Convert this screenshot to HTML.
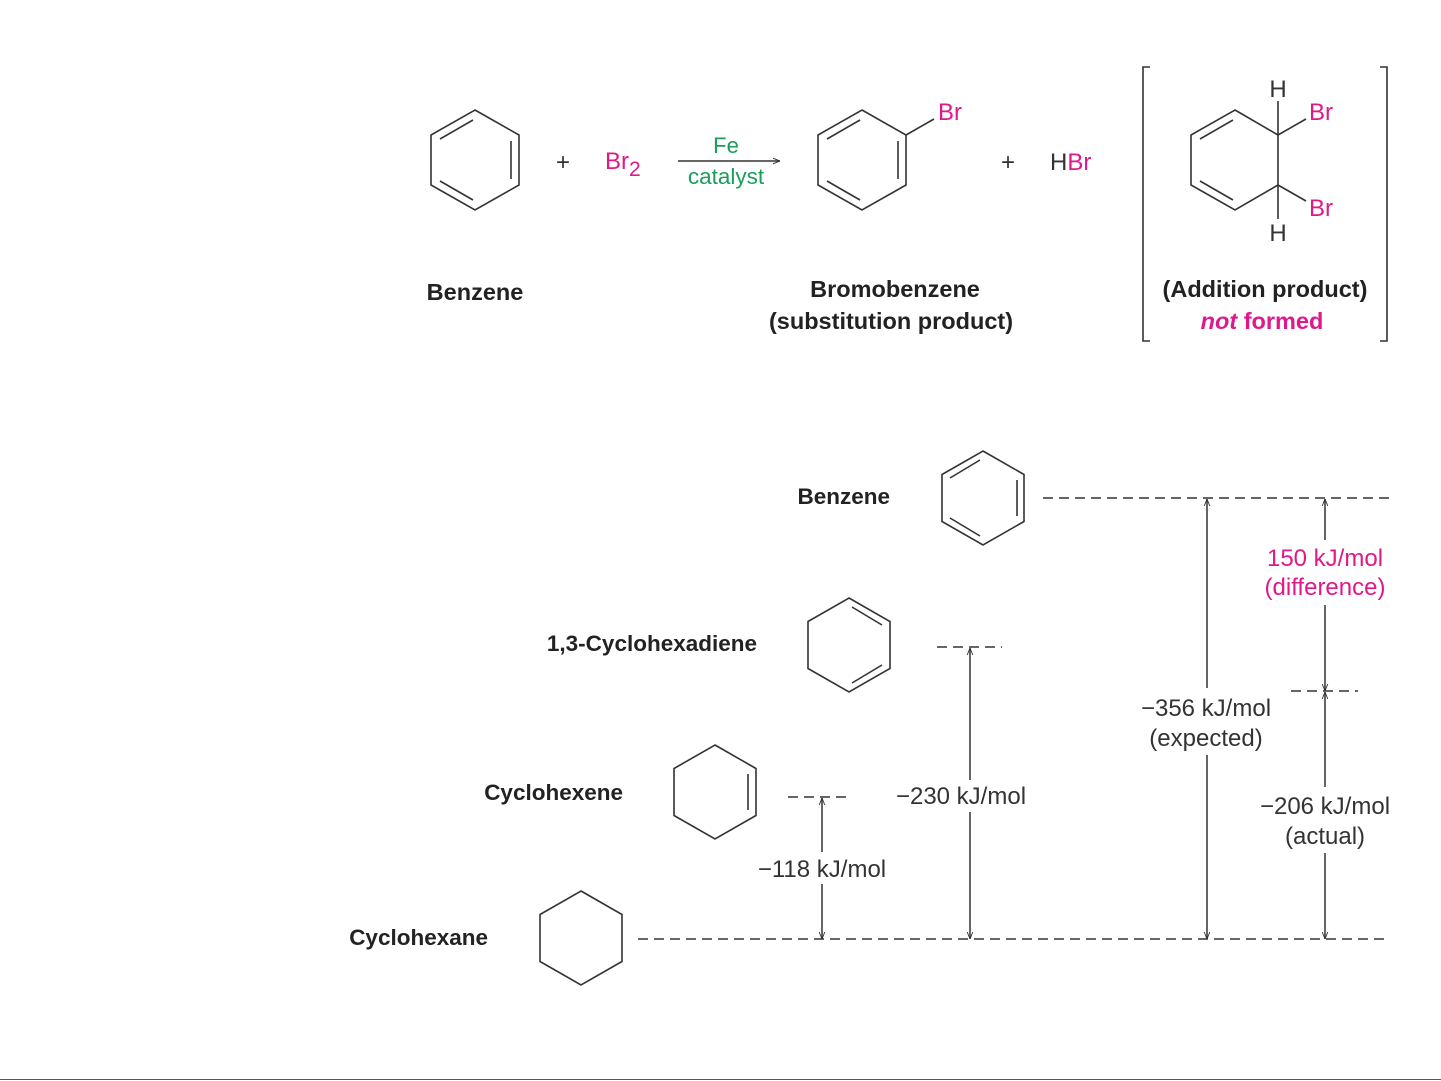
<!DOCTYPE html>
<html><head><meta charset="utf-8"><style>
html,body{margin:0;padding:0;background:#fff}
svg{display:block}
text{font-family:"Liberation Sans",sans-serif}
.b{font-weight:bold;fill:#222;font-size:23.5px}
.b2{font-weight:bold;fill:#222;font-size:22.5px}
.n{fill:#333;font-size:24px}
.k{fill:#333;font-size:24px}
.p{fill:#e0198a}
.g{fill:#1a9e5a}
</style></head><body>
<svg width="1441" height="1081" viewBox="0 0 1441 1081" xmlns="http://www.w3.org/2000/svg">
<defs>
<marker id="ah" viewBox="0 0 10 10" refX="10" refY="5" markerWidth="7" markerHeight="7" orient="auto-start-reverse" markerUnits="userSpaceOnUse">
<path d="M0,1 L10,5 L0,9" fill="none" stroke="#333" stroke-width="1.3"/>
</marker>
</defs>
<g fill="none" stroke="#333" stroke-width="1.6">
<polygon points="475,110 519,135 519,185 475,210 431,185 431,135"/>
<line x1="511" y1="141" x2="511" y2="179"/>
<line x1="440" y1="139" x2="473" y2="120"/>
<line x1="440" y1="181" x2="473" y2="200"/>
<line x1="678" y1="161" x2="780" y2="161" marker-end="url(#ah)"/>
<polygon points="862,110 906,135 906,185 862,210 818,185 818,135"/>
<line x1="898" y1="141" x2="898" y2="179"/>
<line x1="827" y1="139" x2="860" y2="120"/>
<line x1="827" y1="181" x2="860" y2="200"/>
<line x1="906" y1="135" x2="934" y2="119"/>
<polygon points="1235,110 1278,135 1278,185 1235,210 1191,185 1191,135"/>
<line x1="1200" y1="139" x2="1233" y2="120"/>
<line x1="1200" y1="181" x2="1233" y2="200"/>
<line x1="1278" y1="135" x2="1278" y2="101"/>
<line x1="1278" y1="185" x2="1278" y2="219"/>
<line x1="1278" y1="135" x2="1306" y2="119"/>
<line x1="1278" y1="185" x2="1306" y2="201"/>
<polyline points="1150,67 1143,67 1143,341 1150,341"/>
<polyline points="1380,67 1387,67 1387,341 1380,341"/>
<polygon points="983,451 1024,474.5 1024,521.5 983,545 942,521.5 942,474.5"/>
<line x1="1017" y1="480" x2="1017" y2="516"/>
<line x1="950" y1="478" x2="980" y2="460"/>
<line x1="950" y1="518" x2="980" y2="536"/>
<polygon points="849,598 890,621.5 890,668.5 849,692 808,668.5 808,621.5"/>
<line x1="852" y1="607" x2="882" y2="625"/>
<line x1="882" y1="665" x2="852" y2="683"/>
<polygon points="715,745 756,768.5 756,815.5 715,839 674,815.5 674,768.5"/>
<line x1="748" y1="774" x2="748" y2="810"/>
<polygon points="581,891 622,914.5 622,961.5 581,985 540,961.5 540,914.5"/>
</g>
<g stroke="#333" stroke-width="1.6" stroke-dasharray="10,6" fill="none">
<line x1="1043" y1="498" x2="1390" y2="498"/>
<line x1="937" y1="647" x2="1002" y2="647"/>
<line x1="788" y1="797" x2="852" y2="797"/>
<line x1="1291" y1="691" x2="1358" y2="691"/>
<line x1="638" y1="939" x2="1390" y2="939"/>
</g>
<g stroke="#333" stroke-width="1.5" fill="none">
<line x1="822" y1="798" x2="822" y2="852" marker-start="url(#ah)"/>
<line x1="822" y1="884" x2="822" y2="939" marker-end="url(#ah)"/>
<line x1="970" y1="648" x2="970" y2="780" marker-start="url(#ah)"/>
<line x1="970" y1="812" x2="970" y2="939" marker-end="url(#ah)"/>
<line x1="1207" y1="499" x2="1207" y2="688" marker-start="url(#ah)"/>
<line x1="1207" y1="755" x2="1207" y2="939" marker-end="url(#ah)"/>
<line x1="1325" y1="499" x2="1325" y2="540" marker-start="url(#ah)"/>
<line x1="1325" y1="605" x2="1325" y2="691" marker-end="url(#ah)"/>
<line x1="1325" y1="692" x2="1325" y2="787" marker-start="url(#ah)"/>
<line x1="1325" y1="853" x2="1325" y2="939" marker-end="url(#ah)"/>
</g>
<line x1="0" y1="1079.5" x2="1441" y2="1079.5" stroke="#555" stroke-width="1"/>
<text x="563" y="170" class="n" text-anchor="middle" font-size="27">+</text>
<text x="605" y="169" class="p" font-size="24">Br<tspan font-size="21" dy="7">2</tspan></text>
<text x="726" y="153" class="g" font-size="22" text-anchor="middle">Fe</text>
<text x="726" y="184" class="g" font-size="22.5" text-anchor="middle">catalyst</text>
<text x="938" y="120" class="p" font-size="24">Br</text>
<text x="1008" y="170" class="n" text-anchor="middle" font-size="27">+</text>
<text x="1050" y="170" class="n" font-size="24">H<tspan class="p">Br</tspan></text>
<text x="1278" y="97" class="n" font-size="24" text-anchor="middle">H</text>
<text x="1278" y="241" class="n" font-size="24" text-anchor="middle">H</text>
<text x="1309" y="120" class="p" font-size="24">Br</text>
<text x="1309" y="216" class="p" font-size="24">Br</text>
<text x="475" y="300" class="b" text-anchor="middle">Benzene</text>
<text x="895" y="297" class="b" text-anchor="middle">Bromobenzene</text>
<text x="891" y="329" class="b" text-anchor="middle">(substitution product)</text>
<text x="1265" y="297" class="b" text-anchor="middle">(Addition product)</text>
<text x="1262" y="329" class="b p" text-anchor="middle"><tspan font-style="italic">not</tspan> formed</text>
<text x="890" y="504" class="b2" text-anchor="end">Benzene</text>
<text x="757" y="651" class="b2" text-anchor="end">1,3-Cyclohexadiene</text>
<text x="623" y="800" class="b2" text-anchor="end">Cyclohexene</text>
<text x="488" y="945" class="b2" text-anchor="end">Cyclohexane</text>
<text x="822" y="877" class="k" text-anchor="middle">−118 kJ/mol</text>
<text x="961" y="804" class="k" text-anchor="middle">−230 kJ/mol</text>
<text x="1206" y="716" class="k" text-anchor="middle">−356 kJ/mol</text>
<text x="1206" y="746" class="k" text-anchor="middle">(expected)</text>
<text x="1325" y="566" class="k p" text-anchor="middle">150 kJ/mol</text>
<text x="1325" y="595" class="k p" text-anchor="middle">(difference)</text>
<text x="1325" y="814" class="k" text-anchor="middle">−206 kJ/mol</text>
<text x="1325" y="844" class="k" text-anchor="middle">(actual)</text>
</svg>
</body></html>
